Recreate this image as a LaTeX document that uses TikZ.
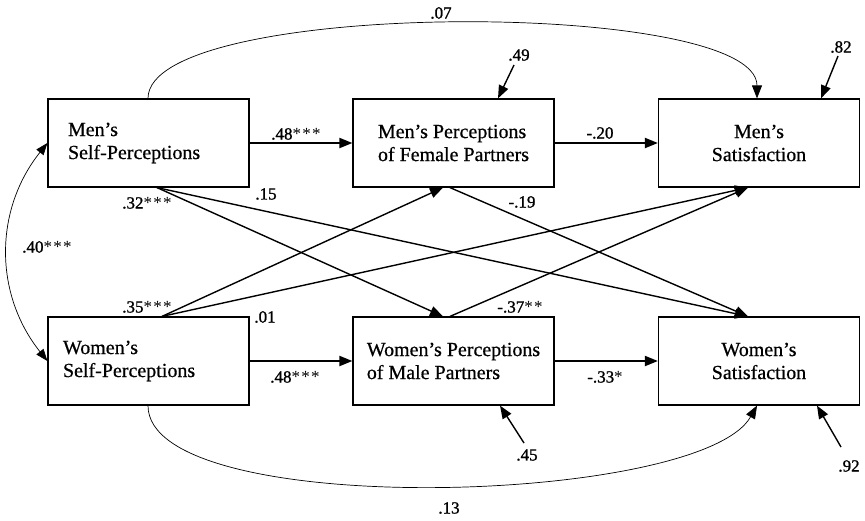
\documentclass[tikz,border=0pt]{standalone}
\usepackage{fontspec}
\setmainfont{Liberation Serif}
\newfontfamily\boxfont{Liberation Serif}[FakeBold=0.6]
\newfontfamily\lblfont{Liberation Serif}[FakeBold=1.2]
\newfontfamily\starfont{Liberation Serif}[LetterSpace=8]
\newcommand{\sigstars}[1]{{\starfont #1}}
\usetikzlibrary{arrows.meta}
\begin{document}
\begin{tikzpicture}[x=1pt,y=-1pt,
  box/.style={draw,line width=1.2pt,minimum width=201pt,minimum height=88pt,inner sep=0pt,font=\boxfont\fontsize{20}{23}\selectfont},
  lbl/.style={inner sep=0pt,font=\lblfont\fontsize{17}{20}\selectfont},
  tip/.style={-{Triangle[length=13pt,width=10pt]}},
  main/.style={tip,line width=2pt},
  diag/.style={tip,line width=1.4pt},
  thinarc/.style={line width=0.7pt}
]
\useasboundingbox (0,0) rectangle (865,520);
% boxes
\node[box,align=left,text width=161pt,inner xsep=20pt] (ms) at (148.5,143) {Men’s\\Self-Perceptions};
\node[box,align=left] (mp) at (453.5,143) {Men’s Perceptions\\of Female Partners};
\node[box,align=center] (msat) at (759,143) {Men’s\\Satisfaction};
\node[box,align=left,text width=171pt,inner xsep=15pt] (ws) at (148.5,361) {Women’s\\Self-Perceptions};
\node[box,align=left] (wp) at (453.5,361) {Women’s Perceptions\\of Male Partners};
\node[box,align=center] (wsat) at (759,361) {Women’s\\Satisfaction};
% horizontal paths
\draw[main] (ms.east) -- (mp.west);
\draw[main] (mp.east) -- (msat.west);
\draw[main] (ws.east) -- (wp.west);
\draw[main] (wp.east) -- (wsat.west);
% cross paths
\draw[diag] ([xshift=8.5pt]ms.south) -- ([xshift=-10.5pt]wp.north);
\draw[diag] ([xshift=8.5pt]ms.south) -- ([xshift=-11pt]wsat.north);
\draw[diag] ([xshift=13.5pt]ws.north) -- ([xshift=-10.5pt]mp.south);
\draw[diag] ([xshift=13.5pt]ws.north) -- ([xshift=-11pt]msat.south);
\draw[diag] ([xshift=-3.5pt]mp.south) -- ([xshift=-11pt]wsat.north);
\draw[diag] ([xshift=-3.5pt]wp.north) -- ([xshift=-11pt]msat.south);
% residuals
\coordinate (r1) at (514,65);
\coordinate (r2) at (838,56);
\coordinate (r3) at (524,443);
\coordinate (r4) at (841,447);
\draw[diag] (r1) -- ([xshift=44.5pt]mp.north);
\draw[diag] (r2) -- ([xshift=62pt]msat.north);
\draw[diag] (r3) -- ([xshift=46.5pt]wp.south);
\draw[diag] (r4) -- ([xshift=58pt]wsat.south);
% curved paths
\draw[thinarc,{Triangle[length=12pt,width=9pt]}-{Triangle[length=12pt,width=9pt]}] (ms.west) .. controls (-6,210) and (-6,294) .. (ws.west);
\draw[thinarc,tip] ([xshift=-0.5pt]ms.north) .. controls +(0,-100) and +(0,-100) .. ([xshift=-2pt]msat.north);
\draw[thinarc,tip] ([xshift=-0.5pt]ws.south) .. controls +(0,115) and +(-57,100) .. ([xshift=-2pt]wsat.south);
% labels
\node[lbl] (l07) at (441,13) {.07};
\node[lbl] (l49) at (519,55) {.49};
\node[lbl] (l82) at (841,47) {.82};
\node[lbl] (l48a) at (296,134) {.48\sigstars{***}};
\node[lbl] (l20) at (600,133) {-.20};
\node[lbl] (l32) at (147,203) {.32\sigstars{***}};
\node[lbl] (l15) at (266,194) {.15};
\node[lbl] (l19) at (522,202) {-.19};
\node[lbl] (l40) at (47,247) {.40\sigstars{***}};
\node[lbl] (l35) at (147,307) {.35\sigstars{***}};
\node[lbl] (l01) at (265,317) {.01};
\node[lbl] (l37) at (520,307) {-.37\sigstars{**}};
\node[lbl] (l48b) at (295,377) {.48\sigstars{***}};
\node[lbl] (l33) at (605,377) {-.33\sigstars{*}};
\node[lbl] (l45) at (527,455) {.45};
\node[lbl] (l92) at (849,466) {.92};
\node[lbl] (l13) at (449,508) {.13};
\end{tikzpicture}
\end{document}
